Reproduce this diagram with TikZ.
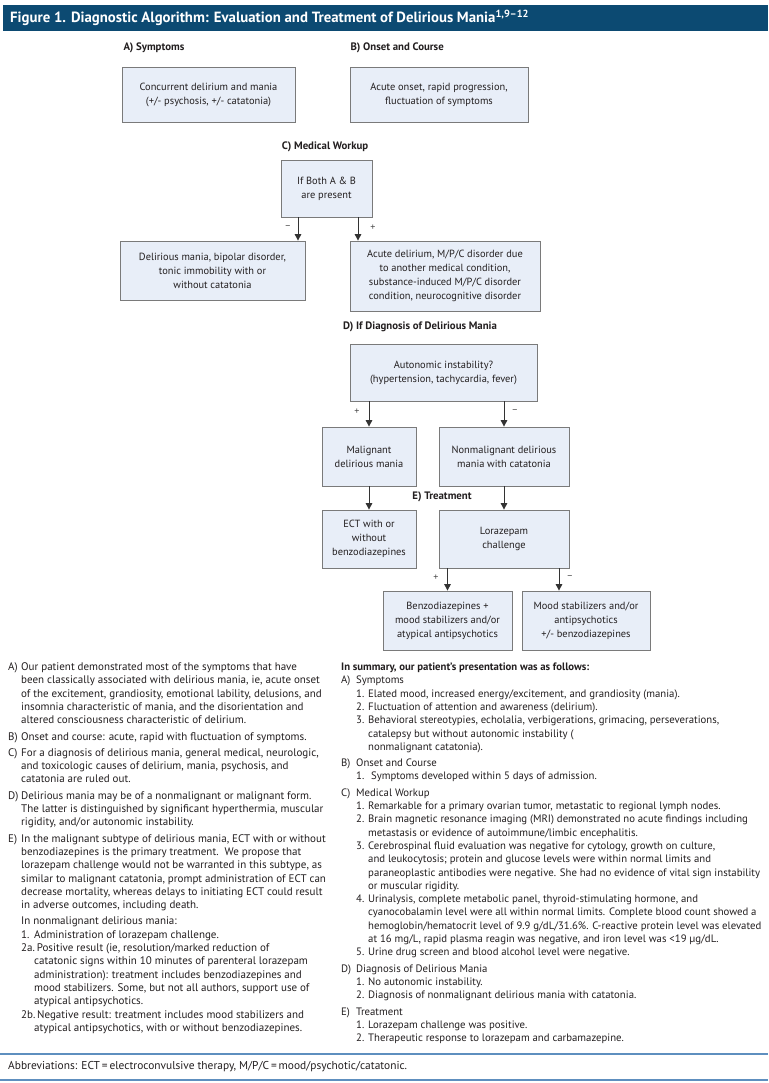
\documentclass[tikz,border=0pt]{standalone}
\usepackage{fontspec}
\setmainfont{PT Sans}
\usetikzlibrary{arrows.meta,shadows}
\definecolor{hdr}{HTML}{0C4A72}
\definecolor{boxfill}{HTML}{E8EEF8}
\definecolor{boxline}{HTML}{7A7A7A}
\definecolor{rulec}{HTML}{5E8FBF}
\definecolor{txt}{HTML}{231F20}
\tikzset{
  fbox/.style={draw=boxline, line width=0.8pt, fill=boxfill, align=center, inner sep=2pt,
    font=\fontsize{10.4}{14}\selectfont, text=txt,
    drop shadow={shadow xshift=0.9pt, shadow yshift=-0.9pt, fill=black!55, opacity=1}},
  arr/.style={draw=black!80, line width=1pt, -{Triangle[width=6.5pt,length=6.5pt]}},
  sign/.style={font=\fontsize{10}{11}\selectfont, text=black!70},
  sect/.style={font=\bfseries\fontsize{10.8}{12}\selectfont, text=txt},
  body/.style={text=txt, inner sep=0pt, align=left},
}
\begin{document}
\begin{tikzpicture}[x=1pt,y=-1pt]
\useasboundingbox (0,0) rectangle (768,1083);
\fill[white] (0,0) rectangle (768,1083);
% header
\fill[hdr] (3,5) rectangle (768,31);
\node[anchor=west, text=white, font=\bfseries\fontsize{14.8}{16}\selectfont, inner sep=0pt] (title) at (10,18)
  {Figure 1. Diagnostic Algorithm: Evaluation and Treatment of Delirious Mania\textsuperscript{1,9–12}};

% section labels
\node[sect, anchor=west] (labA) at (120,48) {A) Symptoms};
\node[sect, anchor=west] (labB) at (347,48) {B) Onset and Course};
\node[sect] (labC) at (325,147) {C) Medical Workup};
\node[sect] (labD) at (420,327) {D) If Diagnosis of Delirious Mania};
\node[sect] (labE) at (442,497) {E) Treatment};

% boxes
\node[fbox, minimum width=173pt, minimum height=55pt] (bA) at (208.5,94.5)
  {Concurrent delirium and mania\\(+/- psychosis, +/- catatonia)};
\node[fbox, minimum width=178pt, minimum height=55pt] (bB) at (439,94.5)
  {Acute onset, rapid progression,\\fluctuation of symptoms};
\node[fbox, minimum width=91pt, minimum height=57pt] (bC) at (326.5,188.5)
  {If Both A \& B\\are present};
\node[fbox, minimum width=185pt, minimum height=59pt] (bNeg) at (212.5,270.5)
  {Delirious mania, bipolar disorder,\\tonic immobility with or\\without catatonia};
\node[fbox, minimum width=190pt, minimum height=70pt] (bPos) at (445,276)
  {Acute delirium, M/P/C disorder due\\to another medical condition,\\substance-induced M/P/C disorder\\condition, neurocognitive disorder};
\node[fbox, minimum width=187pt, minimum height=57pt] (bAut) at (443.5,372.5)
  {Autonomic instability?\\(hypertension, tachycardia, fever)};
\node[fbox, minimum width=94pt, minimum height=59pt] (bMal) at (369,456.5)
  {Malignant\\delirious mania};
\node[fbox, minimum width=130pt, minimum height=59pt] (bNon) at (504,456.5)
  {Nonmalignant delirious\\mania with catatonia};
\node[fbox, minimum width=94pt, minimum height=58pt] (bECT) at (369,539)
  {ECT with or\\without\\benzodiazepines};
\node[fbox, minimum width=130pt, minimum height=58pt] (bLor) at (504,539)
  {Lorazepam\\challenge};
\node[fbox, minimum width=129pt, minimum height=59pt] (bBen) at (447.5,620.5)
  {Benzodiazepines +\\mood stabilizers and/or\\atypical antipsychotics};
\node[fbox, minimum width=128pt, minimum height=59pt] (bMood) at (586,620.5)
  {Mood stabilizers and/or\\antipsychotics\\+/- benzodiazepines};

% connectors
\coordinate (xC1) at (298,0);
\coordinate (xC2) at (358,0);
\coordinate (xL2) at (559,0);
\draw[arr] (bC.south -| xC1) -- (bNeg.north -| xC1);
\draw[arr] (bC.south -| xC2) -- (bPos.north -| xC2);
\draw[arr] (bAut.south -| bMal) -- (bMal.north);
\draw[arr] (bAut.south -| bNon) -- (bNon.north);
\draw[arr] (bMal) -- (bECT);
\draw[arr] (bNon) -- (bLor);
\draw[arr] (bLor.south -| bBen) -- (bBen.north);
\draw[arr] (bLor.south -| xL2) -- (bMood.north -| xL2);

% signs
\node[sign] (s1) at (288,228) {−};
\node[sign] (s2) at (373,228) {+};
\node[sign] (s3) at (357,412) {+};
\node[sign] (s4) at (515,412) {−};
\node[sign] (s5) at (436,578) {+};
\node[sign] (s6) at (570,578) {−};

% left column
\node[body, font=\fontsize{11}{13.3}\selectfont, anchor=north west] (leftcol) at (8,661) {%
\begin{tabular}{@{}p{13pt}@{}p{13pt}@{}l@{}}
A) & \multicolumn{2}{@{}l@{}}{Our patient demonstrated most of the symptoms that have}\\
 & \multicolumn{2}{@{}l@{}}{been classically associated with delirious mania, ie, acute onset}\\
 & \multicolumn{2}{@{}l@{}}{of the excitement, grandiosity, emotional lability, delusions, and}\\
 & \multicolumn{2}{@{}l@{}}{insomnia characteristic of mania, and the disorientation and}\\
 & \multicolumn{2}{@{}l@{}}{altered consciousness characteristic of delirium.}\\[3pt]
B) & \multicolumn{2}{@{}l@{}}{Onset and course: acute, rapid with fluctuation of symptoms.}\\[3pt]
C) & \multicolumn{2}{@{}l@{}}{For a diagnosis of delirious mania, general medical, neurologic,}\\
 & \multicolumn{2}{@{}l@{}}{and toxicologic causes of delirium, mania, psychosis, and}\\
 & \multicolumn{2}{@{}l@{}}{catatonia are ruled out.}\\[3pt]
D) & \multicolumn{2}{@{}l@{}}{Delirious mania may be of a nonmalignant or malignant form.}\\
 & \multicolumn{2}{@{}l@{}}{The latter is distinguished by significant hyperthermia, muscular}\\
 & \multicolumn{2}{@{}l@{}}{rigidity, and/or autonomic instability.}\\[3pt]
E) & \multicolumn{2}{@{}l@{}}{In the malignant subtype of delirious mania, ECT with or without}\\
 & \multicolumn{2}{@{}l@{}}{benzodiazepines is the primary treatment.\ \ We propose that}\\
 & \multicolumn{2}{@{}l@{}}{lorazepam challenge would not be warranted in this subtype, as}\\
 & \multicolumn{2}{@{}l@{}}{similar to malignant catatonia, prompt administration of ECT can}\\
 & \multicolumn{2}{@{}l@{}}{decrease mortality, whereas delays to initiating ECT could result}\\
 & \multicolumn{2}{@{}l@{}}{in adverse outcomes, including death.}\\[3pt]
 & \multicolumn{2}{@{}l@{}}{In nonmalignant delirious mania:}\\
 & 1. & Administration of lorazepam challenge.\\
 & \multicolumn{2}{@{}l@{}}{2a.\,Positive result (ie, resolution/marked reduction of}\\
 & & catatonic signs within 10 minutes of parenteral lorazepam\\
 & & administration): treatment includes benzodiazepines and\\
 & & mood stabilizers. Some, but not all authors, support use of\\
 & & atypical antipsychotics.\\
 & \multicolumn{2}{@{}l@{}}{2b.\,Negative result: treatment includes mood stabilizers and}\\
 & & atypical antipsychotics, with or without benzodiazepines.\\
\end{tabular}};

% right column
\node[body, font=\fontsize{10.75}{13.3}\selectfont, anchor=north west] (rightcol) at (341,661) {%
\begin{tabular}{@{}p{15pt}@{}p{12pt}@{}l@{}}
\multicolumn{3}{@{}l@{}}{\bfseries In summary, our patient’s presentation was as follows:}\\
A) & \multicolumn{2}{@{}l@{}}{Symptoms}\\
 & 1. & Elated mood, increased energy/excitement, and grandiosity (mania).\\
 & 2. & Fluctuation of attention and awareness (delirium).\\
 & 3. & Behavioral stereotypies, echolalia, verbigerations, grimacing, perseverations,\\
 & & catalepsy but without autonomic instability (\\
 & & nonmalignant catatonia).\\[3pt]
B) & \multicolumn{2}{@{}l@{}}{Onset and Course}\\
 & 1. & \ Symptoms developed within 5 days of admission.\\[3pt]
C) & \multicolumn{2}{@{}l@{}}{Medical Workup}\\
 & 1. & Remarkable for a primary ovarian tumor, metastatic to regional lymph nodes.\\
 & 2. & Brain magnetic resonance imaging (MRI) demonstrated no acute findings including\\
 & & metastasis or evidence of autoimmune/limbic encephalitis.\\
 & 3. & Cerebrospinal fluid evaluation was negative for cytology, growth on culture,\\
 & & and leukocytosis; protein and glucose levels were within normal limits and\\
 & & paraneoplastic antibodies were negative. She had no evidence of vital sign instability\\
 & & or muscular rigidity.\\
 & 4. & Urinalysis, complete metabolic panel, thyroid-stimulating hormone, and\\
 & & cyanocobalamin level were all within normal limits. Complete blood count showed a\\
 & & hemoglobin/hematocrit level of 9.9 g/dL/31.6\%. C-reactive protein level was elevated\\
 & & at 16 mg/L, rapid plasma reagin was negative, and iron level was <19 µg/dL.\\
 & 5. & Urine drug screen and blood alcohol level were negative.\\[3pt]
D) & \multicolumn{2}{@{}l@{}}{Diagnosis of Delirious Mania}\\
 & 1. & No autonomic instability.\\
 & 2. & Diagnosis of nonmalignant delirious mania with catatonia.\\[3pt]
E) & \multicolumn{2}{@{}l@{}}{Treatment}\\
 & 1. & Lorazepam challenge was positive.\\
 & 2. & Therapeutic response to lorazepam and carbamazepine.\\
\end{tabular}};

% footer
\draw[rulec, line width=1.2pt] (0,1054) -- (768,1054);
\draw[rulec, line width=1.2pt] (0,1080) -- (768,1080);
\node[body, font=\fontsize{11.4}{13}\selectfont, anchor=west] (abbr) at (8,1067)
  {Abbreviations: ECT\,=\,electroconvulsive therapy, M/P/C\,=\,mood/psychotic/catatonic.};
\end{tikzpicture}
\end{document}
